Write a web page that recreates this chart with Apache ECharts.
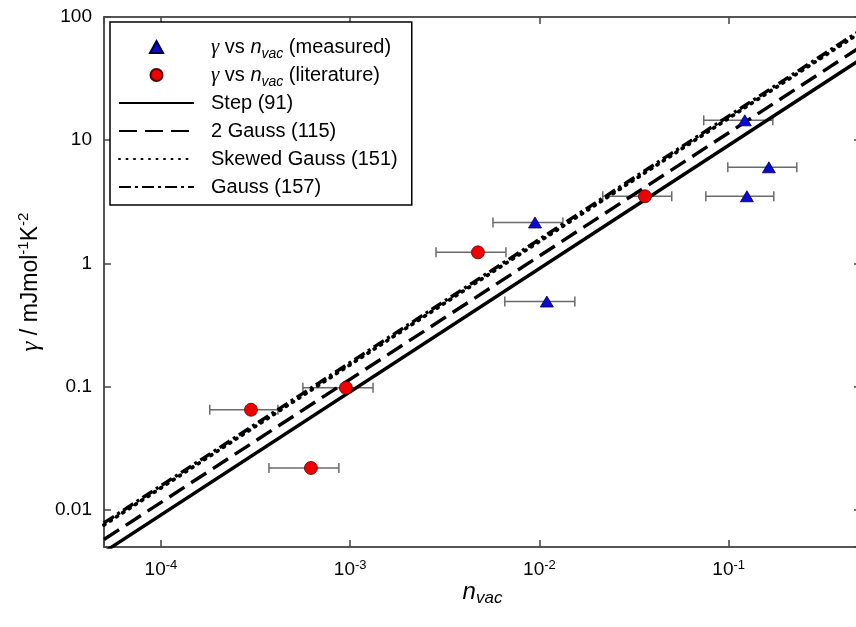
<!DOCTYPE html>
<html><head><meta charset="utf-8">
<script src="https://cdn.jsdelivr.net/npm/echarts@6/dist/echarts.min.js"></script>
<style>html,body{margin:0;padding:0;background:#fff}#c{width:856px;height:627px}</style>
</head><body><div id="c"></div>
<script>
// ---- data ----
const seriesNames = ['measured', 'literature', 'Step (91)', '2 Gauss (115)', 'Skewed Gauss (151)', 'Gauss (157)'];
const legendLabels = [
  '{gi|γ}{t| vs }{ni|n}{sub|vac}{t| (measured)}',
  '{gi|γ}{t| vs }{ni|n}{sub|vac}{t| (literature)}',
  'Step (91)',
  '2 Gauss (115)',
  'Skewed Gauss (151)',
  'Gauss (157)'
];
const measuredX = [0.1216, 0.163, 0.1248, 0.00947, 0.01094];
const measuredY = [14.5, 6.03, 3.51, 2.15, 0.491];
const measuredXLow = [0.0738, 0.0989, 0.0757, 0.00568, 0.00656];
const measuredXHigh = [0.171, 0.229, 0.173, 0.0133, 0.01538];
const literatureX = [0.00473, 0.0361, 0.000299, 0.00062, 0.000949];
const literatureY = [1.23, 3.51, 0.065, 0.0219, 0.098];
const literatureXLow = [0.00284, 0.0216, 0.000181, 0.000372, 0.000562];
const literatureXHigh = [0.00665, 0.0500, 0.000415, 0.000871, 0.00132];
const fitX = [0.00005, 0.5];
const stepY = [0.00455, 45.5];
const gauss2Y = [0.00575, 57.5];
const skewedY = [0.00755, 75.5];
const gaussY = [0.00785, 78.5];
const xTickValues = [1e-4, 1e-3, 1e-2, 1e-1];
const xTickLabels = ['10{sup|-4}', '10{sup|-3}', '10{sup|-2}', '10{sup|-1}'];
const yTickValues = [0.01, 0.1, 1, 10, 100];
const yTickLabels = ['0.01', '0.1', '1', '10', '100'];
const xMin = 0.00005, xMax = 0.5, yMin = 0.005, yMax = 100;

// ---- helpers ----
const FONT = 'Liberation Sans, Arial, sans-serif';
const TRIANGLE = 'path://M6,0 L12,11 L0,11 Z';
function labelFor(values, labels) {
  return function (v) {
    for (let i = 0; i < values.length; i++) {
      if (Math.abs(Math.log10(v) - Math.log10(values[i])) < 1e-6) return labels[i];
    }
    return '';
  };
}
function pairs(xs, ys) { return xs.map((x, i) => [x, ys[i]]); }
function errData(xs, ys, lo, hi) { return xs.map((x, i) => [lo[i], ys[i], hi[i]]); }
function errRender(params, api) {
  const a = api.coord([api.value(0), api.value(1)]);
  const b = api.coord([api.value(2), api.value(1)]);
  const h = 5;
  const style = { stroke: '#6a6a6a', lineWidth: 1.5 };
  return { type: 'group', children: [
    { type: 'line', shape: { x1: a[0], y1: a[1], x2: b[0], y2: b[1] }, style: style },
    { type: 'line', shape: { x1: a[0], y1: a[1] - h, x2: a[0], y2: a[1] + h }, style: style },
    { type: 'line', shape: { x1: b[0], y1: b[1] - h, x2: b[0], y2: b[1] + h }, style: style }
  ] };
}
const axisLine = { show: true, lineStyle: { color: '#555', width: 2 } };
const axisTick = { show: true, inside: true, length: 7, lineStyle: { color: '#444', width: 1.5 } };

const chart = echarts.init(document.getElementById('c'), null, { renderer: 'canvas' });
chart.setOption({
  animation: false,
  backgroundColor: '#fff',
  grid: { left: 104, top: 17, width: 757, height: 530, containLabel: false, outerBoundsMode: 'none' },
  xAxis: [{
    type: 'log', min: xMin, max: xMax, position: 'bottom',
    axisLine: axisLine, axisTick: axisTick, splitLine: { show: false },
    axisLabel: {
      margin: 12, color: '#000', fontFamily: FONT, fontSize: 19, lineHeight: 22,
      formatter: labelFor(xTickValues, xTickLabels),
      rich: { sup: { fontSize: 13, lineHeight: 13, verticalAlign: 'top', fontFamily: FONT, color: '#000' } }
    },
    name: '{ni|n}{sub|vac}', nameLocation: 'middle', nameGap: 30, nameMoveOverlap: false,
    nameTextStyle: {
      rich: {
        ni: { fontSize: 24, fontStyle: 'italic', fontFamily: FONT, color: '#000', lineHeight: 30 },
        sub: { fontSize: 17, fontStyle: 'italic', fontFamily: FONT, color: '#000', lineHeight: 20, verticalAlign: 'bottom' }
      }
    }
  }, {
    type: 'log', min: xMin, max: xMax, position: 'top',
    axisLine: axisLine, axisTick: axisTick, axisLabel: { show: false }, splitLine: { show: false }
  }],
  yAxis: [{
    type: 'log', min: yMin, max: yMax, position: 'left',
    axisLine: axisLine, axisTick: axisTick, splitLine: { show: false },
    axisLabel: { margin: 12, color: '#000', fontFamily: FONT, fontSize: 19, formatter: labelFor(yTickValues, yTickLabels) },
    name: '{g|γ}{t| / mJmol}{sup|-1}{t|K}{sup|-2}', nameLocation: 'middle', nameGap: 58, nameRotate: 90,
    nameTextStyle: {
      rich: {
        g: { fontSize: 25, fontStyle: 'italic', fontFamily: 'Liberation Serif, serif', color: '#000', lineHeight: 30 },
        t: { fontSize: 23, fontFamily: FONT, color: '#000', lineHeight: 30 },
        sup: { fontSize: 15, fontFamily: FONT, color: '#000', lineHeight: 15, verticalAlign: 'top' }
      }
    }
  }, {
    type: 'log', min: yMin, max: yMax, position: 'right',
    axisLine: axisLine, axisTick: axisTick, axisLabel: { show: false }, splitLine: { show: false }
  }],
  legend: {
    data: seriesNames.map((n, i) => i >= 2 ? { name: n, itemStyle: { opacity: 0 } } : { name: n }),
    orient: 'vertical', left: 110, top: 22,
    padding: [11, 14, 4, 8], itemGap: 0, itemWidth: 75, itemHeight: 12,
    borderColor: '#000', borderWidth: 1.5, backgroundColor: '#fff',
    selectedMode: false,
    formatter: function (name) { return legendLabels[seriesNames.indexOf(name)]; },
    textStyle: {
      padding: [0, 0, 0, 12],
      fontSize: 20, fontFamily: FONT, color: '#000', lineHeight: 28,
      rich: {
        t: { fontSize: 20, fontFamily: FONT, color: '#000', lineHeight: 28 },
        gi: { fontSize: 21, fontStyle: 'italic', fontFamily: 'Liberation Serif, serif', color: '#000', lineHeight: 28 },
        ni: { fontSize: 20, fontStyle: 'italic', fontFamily: FONT, color: '#000', lineHeight: 28 },
        sub: { fontSize: 14, fontStyle: 'italic', fontFamily: FONT, color: '#000', lineHeight: 16, verticalAlign: 'bottom' }
      }
    }
  },
  series: [
    { type: 'custom', renderItem: errRender, data: errData(measuredX, measuredY, measuredXLow, measuredXHigh),
      encode: { x: [0, 2], y: 1 }, z: 1, silent: true },
    { type: 'custom', renderItem: errRender, data: errData(literatureX, literatureY, literatureXLow, literatureXHigh),
      encode: { x: [0, 2], y: 1 }, z: 1, silent: true },
    { name: seriesNames[2], type: 'line', data: pairs(fitX, stepY), symbol: 'none', z: 3,
      itemStyle: { color: 'rgba(0,0,0,0)' },
      lineStyle: { color: '#000', width: 3.4, type: 'solid' } },
    { name: seriesNames[3], type: 'line', data: pairs(fitX, gauss2Y), symbol: 'none', z: 3,
      itemStyle: { color: 'rgba(0,0,0,0)' },
      lineStyle: { color: '#000', width: 3.4, type: [18, 8] } },
    { name: seriesNames[4], type: 'line', data: pairs(fitX, skewedY), symbol: 'none', z: 3,
      itemStyle: { color: 'rgba(0,0,0,0)' },
      lineStyle: { color: '#000', width: 3.8, type: [1, 6.5], cap: 'round' } },
    { name: seriesNames[5], type: 'line', data: pairs(fitX, gaussY), symbol: 'none', z: 3,
      itemStyle: { color: 'rgba(0,0,0,0)' },
      lineStyle: { color: '#000', width: 3.4, type: [12, 4, 3, 4] } },
    { name: seriesNames[0], type: 'scatter', data: pairs(measuredX, measuredY), symbol: TRIANGLE, symbolKeepAspect: true,
      symbolSize: [13, 12], z: 4,
      itemStyle: { color: '#0a0ad0', borderColor: '#000040', borderWidth: 0.8, opacity: 1 } },
    { name: seriesNames[1], type: 'scatter', data: pairs(literatureX, literatureY), symbol: 'circle', symbolSize: 13, z: 4,
      itemStyle: { color: '#f00000', borderColor: '#550000', borderWidth: 0.8, opacity: 1 } }
  ]
});
</script>
</body></html>
